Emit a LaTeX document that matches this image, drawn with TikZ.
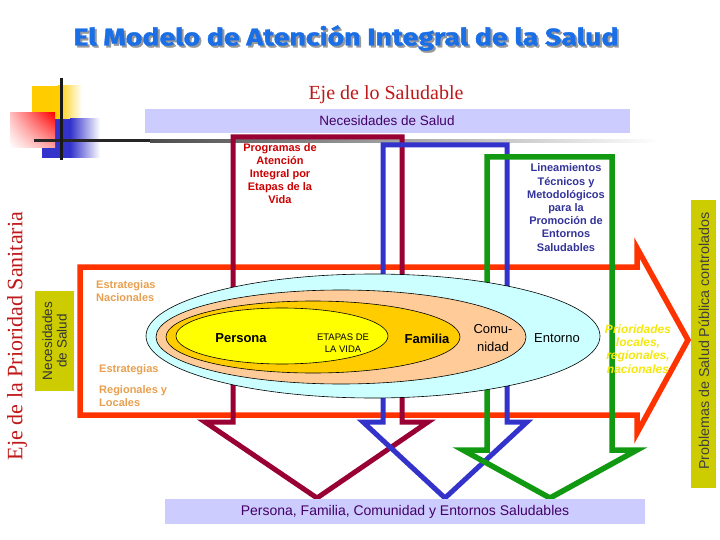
\documentclass[tikz,border=0pt]{standalone}
\usepackage{fontspec}
\setmainfont{Liberation Serif}
\setsansfont{Liberation Sans}
\newfontfamily\titlefont[BoldFeatures={FakeBold=1.3}]{Fira Sans}
\usetikzlibrary{shapes.geometric,shadings}
\definecolor{maroonA}{HTML}{990033}
\definecolor{blueA}{HTML}{3333CC}
\definecolor{greenA}{HTML}{119911}
\definecolor{orangeA}{HTML}{FF3300}
\definecolor{cyanA}{HTML}{CCFFFF}
\definecolor{peachA}{HTML}{FFCC99}
\definecolor{amberA}{HTML}{FFCC00}
\definecolor{yellowA}{HTML}{FFFF00}
\definecolor{oliveA}{HTML}{CCCC00}
\definecolor{lavA}{HTML}{CCCCFF}
\definecolor{tanA}{HTML}{E8A050}
\definecolor{titleblue}{HTML}{1A6FE6}
\definecolor{serifred}{HTML}{C01818}
\definecolor{purpA}{HTML}{440066}
\definecolor{progred}{HTML}{CC0000}
\definecolor{lineblue}{HTML}{333399}
\newcommand{\titletext}{El Modelo de Atención Integral de la Salud}
\newcommand{\titlebox}{\resizebox{545pt}{20pt}{\titlefont\bfseries\titletext}}
\begin{document}
\begin{tikzpicture}[x=1pt,y=-1pt,
  arrowline/.style={line width=5.5pt, line join=miter, miter limit=10},
  ring/.style={draw=black, line width=0.6pt},
  bandbox/.style={fill=lavA, draw=none},
  olivebox/.style={fill=oliveA, draw=none},
  smalltxt/.style={font=\fontsize{11}{13.2}\selectfont\sffamily\bfseries, align=center, inner sep=0pt},
  tantxt/.style={font=\fontsize{11}{12.5}\selectfont\sffamily\bfseries, text=tanA, align=left, anchor=west, inner sep=0pt},
  ringtxt/.style={font=\fontsize{13}{15}\selectfont\sffamily, inner sep=0pt, align=center}]
\useasboundingbox (0,0) rectangle (720,540);
\fill[white] (0,0) rectangle (720,540);

% decorations
\fill[amberA] (32,86) rectangle (58,119);
\shade[left color=amberA, right color=white] (58,86) rectangle (82,119);
\fill[blueA] (42,119) rectangle (70,158);
\shade[left color=blueA, right color=white] (70,119) rectangle (100,158);
\shade[upper right=red, upper left=red!25, lower right=red!35, lower left=white] (10,113) rectangle (55,148);
\fill[black!85] (34,139.5) rectangle (150,142.5);
\shade[left color=black!70, right color=white] (150,139.5) rectangle (660,142.5);
\draw[black!90, line width=3pt] (61,78) -- (61,160);

% title (with its shadow in the same node)
\node[inner sep=0pt] (title) at (346,39) {\rlap{\hspace{2pt}\raisebox{-2pt}{\color{black!40}\titlebox}}\color{titleblue}\titlebox\hspace{2pt}};

\node[font=\fontsize{20}{22}\selectfont, text=serifred, inner sep=0pt] (ejesal) at (386,95) {Eje de lo Saludable};

\fill[bandbox] (145,109) rectangle (630,133);
\node[font=\fontsize{13.5}{15}\selectfont\sffamily, text=purpA, inner sep=0pt] (necsal) at (387,121) {Necesidades de Salud};

% orange horizontal arrow
\draw[arrowline, orangeA] (80,267) -- (637,267) -- (637,248) -- (688,340) -- (637,433) -- (637,415) -- (80,415) -- cycle;
% maroon arrow
\draw[arrowline, maroonA, line width=5pt] (233,137) -- (402,137) -- (402,422) -- (428,422) -- (317,498) -- (205,422) -- (233,422) -- cycle;
% blue arrow
\draw[arrowline, blueA, line width=5pt] (383,145) -- (507,145) -- (507,422) -- (527,422) -- (445,498) -- (363,422) -- (383,422) -- cycle;
% green arrow
\draw[arrowline, greenA, line width=5.5pt] (487,157) -- (612,157) -- (612,450) -- (637,450) -- (550,498) -- (463,450) -- (487,450) -- cycle;

% ellipses
\draw[ring, fill=cyanA] (373,336) ellipse [x radius=227, y radius=62];
\draw[ring, fill=peachA] (341,337) ellipse [x radius=185, y radius=47];
\draw[ring, fill=amberA] (313,337) ellipse [x radius=147, y radius=36];
\draw[ring, fill=yellowA] (282,336) ellipse [x radius=106, y radius=28];

\node[ringtxt, font=\fontsize{13}{15}\selectfont\sffamily\bfseries] (persona) at (241,338) {Persona};
\node[ringtxt, font=\fontsize{9.5}{12}\selectfont\sffamily] (etapas) at (343,343) {ETAPAS DE\\LA VIDA};
\node[ringtxt, font=\fontsize{13}{15}\selectfont\sffamily\bfseries] (familia) at (427,339) {Familia};
\node[ringtxt, font=\fontsize{13}{18}\selectfont\sffamily] (comunidad) at (493,338) {Comu-\\nidad};
\node[ringtxt] (entorno) at (557,338) {Entorno};

% labels
\node[smalltxt, text=progred] (programas) at (280,173.5) {Programas de\\Atención\\Integral por\\Etapas de la\\Vida};
\node[smalltxt, text=lineblue] (lineamientos) at (566,207.5) {Lineamientos\\Técnicos y\\Metodológicos\\para la\\Promoción de\\Entornos\\Saludables};
\node[tantxt] (estnac) at (96,291) {Estrategias\\Nacionales};
\node[tantxt] (estr) at (99,370) {Estrategias};
\node[tantxt, font=\fontsize{11}{13}\selectfont\sffamily\bfseries] (regloc) at (99,396.5) {Regionales y\\Locales};
\node[font=\fontsize{12}{13.2}\selectfont\sffamily\bfseries\itshape, text=yellow!95!black, align=center, inner sep=0pt] (prior) at (638,349) {Prioridades\\locales,\\regionales,\\nacionales};

% left side
\fill[olivebox] (35,291) rectangle (74,391);
\node[rotate=90, font=\fontsize{13.5}{14.5}\selectfont\sffamily, text=black!80, align=center, inner sep=0pt] (necleft) at (54.5,341) {Necesidades\\de Salud};
\node[rotate=90, font=\fontsize{22}{23}\selectfont, text=serifred, inner sep=0pt] (ejeprio) at (17,336) {Eje de la Prioridad Sanitaria};

% right side
\fill[olivebox] (691,200) rectangle (716,488);
\node[rotate=90, font=\fontsize{14.3}{15}\selectfont\sffamily, text=black!75, inner sep=0pt] (problemas) at (704,341) {Problemas de Salud Pública controlados};

% bottom
\fill[bandbox] (165,499) rectangle (645,524);
\node[font=\fontsize{14}{16}\selectfont\sffamily, text=purpA, inner sep=0pt] (bottom) at (405,512) {Persona, Familia, Comunidad y Entornos Saludables};
\end{tikzpicture}
\end{document}
